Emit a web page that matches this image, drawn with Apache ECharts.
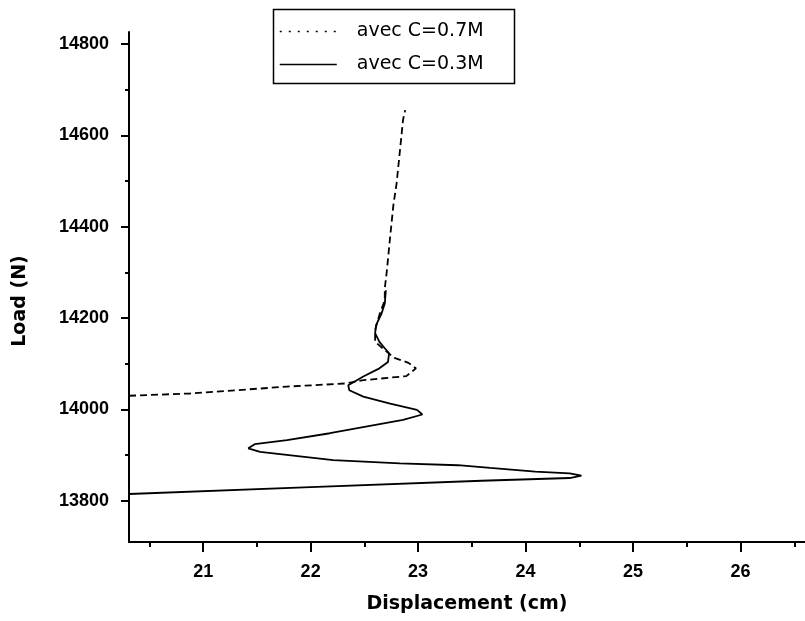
<!DOCTYPE html>
<html>
<head>
<meta charset="utf-8">
<script src="https://cdn.jsdelivr.net/npm/echarts@6/dist/echarts.min.js"></script>
<style>
html,body{margin:0;padding:0;background:#fff;}
#chart{width:805px;height:621px;}
</style>
</head>
<body>
<div id="chart"></div>
<script>
// C = 0.3M (solid)
var dispC03 = [20.31, 22.00, 23.59, 24.41, 24.52, 24.41, 24.09, 23.67, 23.37, 22.83, 22.21, 21.53, 21.42, 21.48, 21.78, 22.18, 22.86, 23.04, 22.99, 22.74, 22.49, 22.36, 22.35, 22.49, 22.64, 22.72, 22.73, 22.69, 22.64, 22.60, 22.61, 22.66, 22.69, 22.70];
var loadC03 = [13815, 13830, 13844, 13850, 13855, 13860, 13864, 13872, 13878, 13882, 13889, 13907, 13915, 13924, 13933, 13948, 13977, 13989, 13999, 14013, 14028, 14042, 14053, 14072, 14090, 14104, 14123, 14134, 14148, 14167, 14185, 14210, 14232, 14261];
// C = 0.7M (dashed)
var dispC07 = [20.31, 20.88, 21.78, 22.33, 22.49, 22.89, 22.98, 22.91, 22.78, 22.71, 22.60, 22.60, 22.64, 22.69, 22.69, 22.71, 22.74, 22.77, 22.80, 22.83, 22.86, 22.88];
var loadC07 = [14030, 14035, 14050, 14057, 14064, 14073, 14090, 14102, 14113, 14126, 14148, 14174, 14207, 14239, 14265, 14305, 14378, 14447, 14495, 14564, 14634, 14655];

var seriesNames = ['avec C=0.7M', 'avec C=0.3M'];
var xMajorTicks = [21, 22, 23, 24, 25, 26];
var xMinorTicks = [20.5, 21.5, 22.5, 23.5, 24.5, 25.5, 26.5];
var yMajorTicks = [13800, 14000, 14200, 14400, 14600, 14800];
var yMinorTicks = [13900, 14100, 14300, 14500, 14700];

function pairs(xs, ys) { return xs.map(function (x, i) { return [x, ys[i]]; }); }

var chart = echarts.init(document.getElementById('chart'), null, {renderer: 'canvas'});
var tickFont = {fontFamily: 'Liberation Sans', fontWeight: 'bold', fontSize: 18, color: '#000'};
var nameFont = {fontFamily: 'DejaVu Sans', fontWeight: 'bold', fontSize: 19, color: '#000'};
var xMin = 20.31, xMax = 26.6, yMin = 13710, yMax = 14826;
var hiddenSymbol = {color: 'rgba(0,0,0,0)', borderColor: 'rgba(0,0,0,0)', borderWidth: 0, opacity: 0};

chart.setOption({
  animation: false,
  backgroundColor: '#fff',
  grid: {left: 129, top: 32, right: 0, bottom: 79, containLabel: false},
  xAxis: [{
    type: 'value', min: xMin, max: xMax, position: 'bottom',
    name: 'Displacement (cm)', nameLocation: 'middle', nameGap: 53,
    nameTextStyle: nameFont,
    axisLine: {show: true, lineStyle: {color: '#000', width: 2}},
    axisTick: {show: true, customValues: xMajorTicks, length: 10, lineStyle: {color: '#000', width: 2}},
    axisLabel: {show: true, customValues: xMajorTicks, margin: 21, formatter: function (v) { return String(v); }, ...tickFont},
    splitLine: {show: false}
  }, {
    type: 'value', min: xMin, max: xMax, position: 'bottom',
    axisLine: {show: false},
    axisTick: {show: true, customValues: xMinorTicks, length: 5, lineStyle: {color: '#000', width: 2}},
    axisLabel: {show: false},
    splitLine: {show: false}
  }],
  yAxis: [{
    type: 'value', min: yMin, max: yMax, position: 'left',
    name: 'Load (N)', nameLocation: 'middle', nameGap: 99,
    nameTextStyle: Object.assign({padding: [0, 28, 0, 0]}, nameFont),
    axisLine: {show: true, lineStyle: {color: '#000', width: 2}},
    axisTick: {show: true, customValues: yMajorTicks, length: 8, lineStyle: {color: '#000', width: 2}},
    axisLabel: {show: true, customValues: yMajorTicks, margin: 20, formatter: function (v) { return String(v); }, ...tickFont},
    splitLine: {show: false}
  }, {
    type: 'value', min: yMin, max: yMax, position: 'left',
    axisLine: {show: false},
    axisTick: {show: true, customValues: yMinorTicks, length: 4, lineStyle: {color: '#000', width: 2}},
    axisLabel: {show: false},
    splitLine: {show: false}
  }],
  legend: {
    orient: 'vertical', left: 279, top: 22, padding: 0,
    itemWidth: 57, itemHeight: 14, itemGap: 14,
    textStyle: {fontFamily: 'DejaVu Sans', fontSize: 19, color: '#000', padding: [0, 0, 0, 15]},
    data: [
      {name: seriesNames[0], itemStyle: hiddenSymbol, lineStyle: {type: [2, 7], width: 1.5, color: '#000'}},
      {name: seriesNames[1], itemStyle: hiddenSymbol, lineStyle: {type: 'solid', width: 1.5, color: '#000'}}
    ]
  },
  graphic: [{
    type: 'rect', left: 271, top: 7, silent: true,
    shape: {width: 241, height: 74},
    style: {fill: 'none', stroke: '#000', lineWidth: 1.5}
  }],
  series: [{
    name: seriesNames[0], type: 'line', xAxisIndex: 0, yAxisIndex: 0,
    data: pairs(dispC07, loadC07), symbol: 'none', smooth: false,
    lineStyle: {color: '#000', width: 1.8, type: [7, 4]},
    itemStyle: {color: '#000'}
  }, {
    name: seriesNames[1], type: 'line', xAxisIndex: 0, yAxisIndex: 0,
    data: pairs(dispC03, loadC03), symbol: 'none', smooth: false,
    lineStyle: {color: '#000', width: 1.8, type: 'solid'},
    itemStyle: {color: '#000'}
  }]
});
</script>
</body>
</html>
